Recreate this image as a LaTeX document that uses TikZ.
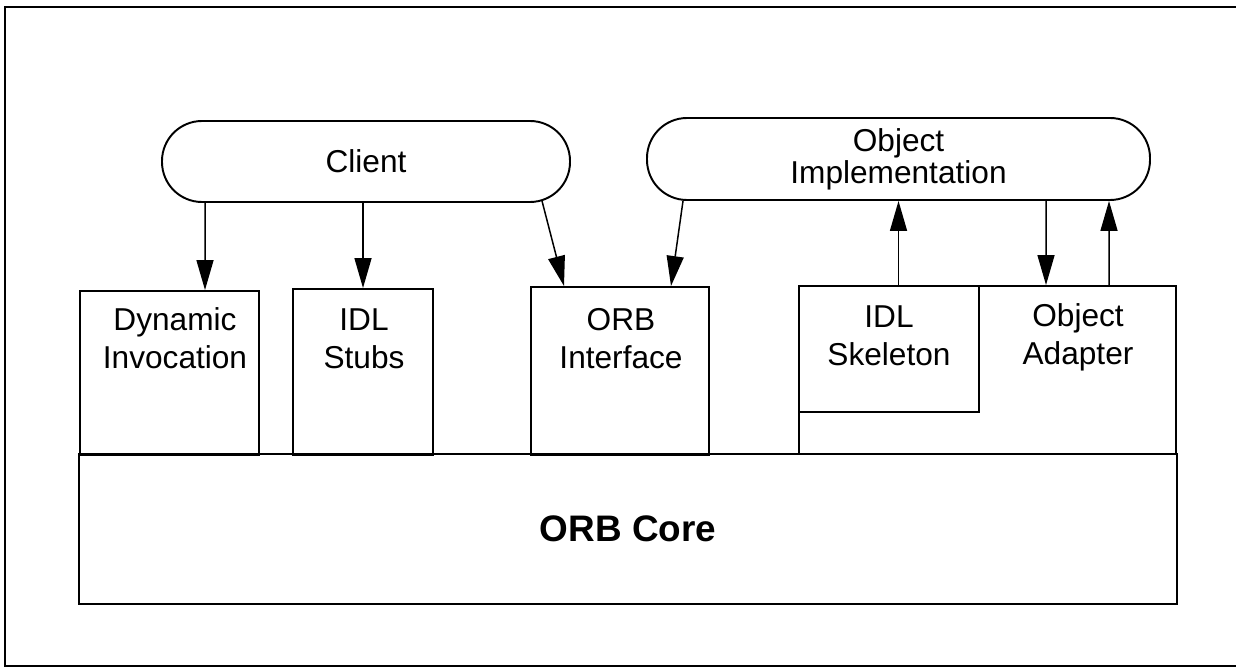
\documentclass[tikz,border=0pt]{standalone}
\usepackage{fontspec}
\setmainfont{Liberation Sans}
\usetikzlibrary{arrows.meta}

\tikzset{
  pill/.style={draw, line width=1.1pt, rounded corners=0.8cm, minimum height=1.62cm, align=center},
  box/.style={draw, line width=1.1pt},
  lbl/.style={align=center, anchor=base, font=\fontsize{18}{21.6}\selectfont},
  arr/.style={-{Triangle[length=0.6cm, width=0.34cm]}, line width=0.85pt},
}

\begin{document}
\begin{tikzpicture}
  \useasboundingbox (0,0) rectangle (24.72,13.36);
  % frame, open at the right
  \draw [line width=1.25pt] (24.9,13.22) -- (0.1,13.22) -- (0.1,0.04) -- (24.9,0.04);

  \node [pill, minimum width=8.16cm, font=\fontsize{18}{21.6}\selectfont] (client) at (7.32,10.13) {Client};
  \node [pill, minimum width=10.06cm, minimum height=1.64cm, font=\fontsize{18}{18.2}\selectfont] (impl) at (17.97,10.18) {Object\\Implementation};

  \node [box, minimum width=3.58cm, minimum height=3.28cm] (dyn) at (3.39,5.90) {};
  \node [box, minimum width=2.80cm, minimum height=3.32cm] (stubs) at (7.26,5.92) {};
  \node [box, minimum width=3.56cm, minimum height=3.36cm] (orbi) at (12.40,5.94) {};
  \node [box, minimum width=7.54cm, minimum height=3.36cm] (adapter) at (19.75,5.96) {};
  \node [box, minimum width=3.60cm, minimum height=2.52cm] (skel) at (17.78,6.38) {};
  \node [box, minimum width=21.96cm, minimum height=3cm, font=\bfseries\fontsize{21}{25}\selectfont] (core) at (12.56,2.78) {ORB Core};

  % base = last line
  \node [lbl] (dyn-text) at (3.50,6.00) {Dynamic\\Invocation};
  \node [lbl] (stubs-text) at (7.28,6.00) {IDL\\Stubs};
  \node [lbl] (orbi-text) at (12.42,6.00) {ORB\\Interface};
  \node [lbl] (skel-text) at (17.78,6.06) {IDL\\Skeleton};
  \node [lbl] (adapter-text) at (21.56,6.08) {Object\\Adapter};

  \draw [arr] ([xshift=-3.22cm]client.south) -- ([xshift=0.71cm]dyn.north);
  \draw [arr] (stubs.north |- client.south) -- (stubs.north);
  \draw [arr] ([xshift=3.52cm, yshift=0.04cm]client.south) -- ([xshift=-1.12cm]orbi.north);
  \draw [arr] ([xshift=-4.31cm]impl.south) -- ([xshift=1.02cm]orbi.north);
  \draw [arr] (skel.north -| impl.south) -- (impl.south);
  \draw [arr] ([xshift=2.95cm]impl.south) -- ([xshift=1.17cm]adapter.north);
  \draw [arr] ([xshift=2.43cm]adapter.north) -- ([xshift=4.21cm]impl.south);
\end{tikzpicture}
\end{document}
